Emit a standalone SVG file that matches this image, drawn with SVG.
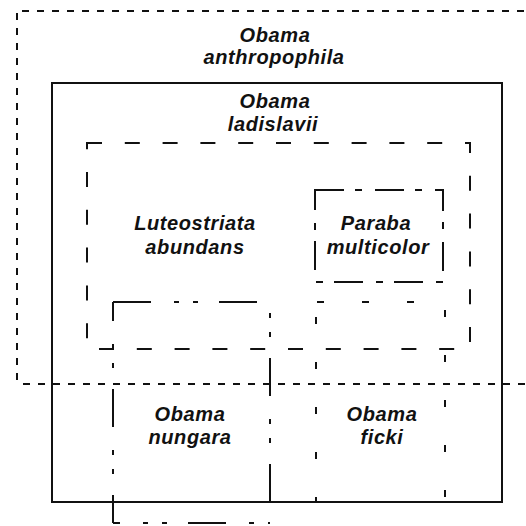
<svg xmlns="http://www.w3.org/2000/svg" width="526" height="526" viewBox="0 0 526 526">
<style>
.ln{fill:none;stroke:#111;stroke-width:2}
.out{stroke-dasharray:7 8}
.lut{stroke-dasharray:15 22.8}
.par{stroke-dasharray:29 11 7 13}
.nun{stroke-dasharray:38 23 5 14 5 21}
.fic{stroke-dasharray:7 38}
text{font-family:"Liberation Sans",Arial,sans-serif;font-weight:bold;font-style:italic;font-size:20px;letter-spacing:0.6px;fill:#111;text-anchor:middle}
</style>
<rect width="526" height="526" fill="#fff"/>
<g id="anthropophila">
<line class="ln out" x1="17" y1="11" x2="17" y2="384" stroke-dashoffset="13"/>
<line class="ln out" x1="17" y1="11" x2="540" y2="11" stroke-dashoffset="10"/>
<line class="ln out" x1="17" y1="384" x2="540" y2="384" stroke-dashoffset="9"/>
<text x="275" y="42">Obama</text>
<text x="274" y="64">anthropophila</text>
</g>
<g id="ladislavii">
<rect class="ln" x="52" y="83" width="450" height="419"/>
<text x="275" y="108">Obama</text>
<text x="273" y="131">ladislavii</text>
</g>
<g id="luteostriata">
<path class="ln lut" d="M87 143 H470 V349 H87 Z"/>
<text x="195" y="230">Luteostriata</text>
<text x="195" y="254">abundans</text>
</g>
<g id="paraba">
<path class="ln par" d="M315 190 H443 V282 H315 Z"/>
<text x="376" y="230">Paraba</text>
<text x="378" y="254">multicolor</text>
</g>
<g id="nungara">
<line class="ln nun" x1="113" y1="302" x2="270" y2="302"/>
<line class="ln nun" x1="270" y1="302" x2="270" y2="523" stroke-dashoffset="50"/>
<line class="ln nun" x1="113" y1="302" x2="113" y2="523" stroke-dashoffset="19"/>
<line class="ln nun" x1="113" y1="523" x2="270" y2="523" stroke-dashoffset="31"/>
<text x="190" y="421">Obama</text>
<text x="190" y="444">nungara</text>
</g>
<g id="ficki">
<line class="ln fic" x1="316" y1="302" x2="445" y2="302" stroke-dashoffset="44"/>
<line class="ln fic" x1="316" y1="302" x2="316" y2="502" stroke-dashoffset="30"/>
<line class="ln fic" x1="445" y1="302" x2="445" y2="502" stroke-dashoffset="37"/>
<line class="ln fic" x1="316" y1="502" x2="445" y2="502" stroke-dashoffset="44"/>
<text x="382" y="421">Obama</text>
<text x="382" y="444">ficki</text>
</g>
<g id="connectors"></g>
</svg>
